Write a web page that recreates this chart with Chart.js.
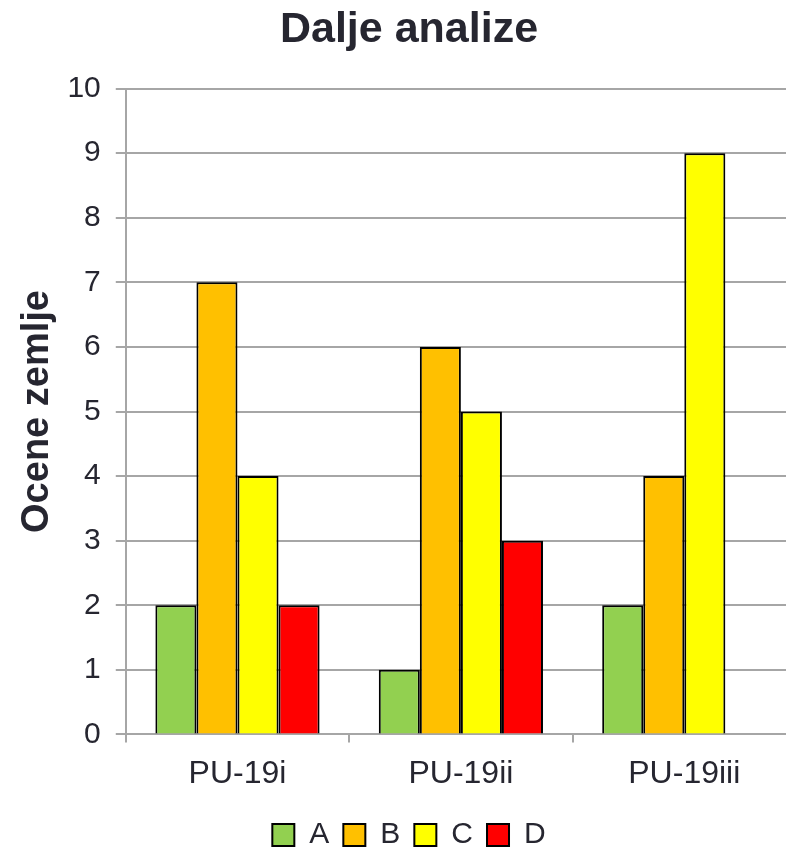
<!DOCTYPE html>
<html>
<head>
<meta charset="utf-8">
<script src="https://cdn.jsdelivr.net/npm/chart.js@4/dist/chart.umd.min.js"></script>
<style>
  html, body { margin: 0; padding: 0; background: #fff; overflow: hidden; }
  canvas { display: block; }
</style>
</head>
<body>
<canvas id="gradeChart" width="800" height="850"></canvas>
<script>
// categories and series
const categories = ['PU-19i', 'PU-19ii', 'PU-19iii'];
const seriesA = [2, 1, 2];
const seriesB = [7, 6, 4];
const seriesC = [4, 5, 9];
const seriesD = [2, 3, 0];

const textColor = '#262630';
const gridColor = '#a6a6a6';
const fontFamily = '"Liberation Sans", Arial, sans-serif';

Chart.defaults.font.family = fontFamily;
Chart.defaults.color = textColor;

const ctx = document.getElementById('gradeChart').getContext('2d');

function bars(label, values, color) {
    return {
        label: label,
        data: values,
        backgroundColor: color,
        borderColor: '#000000',
        borderWidth: 2,
        borderSkipped: 'bottom',
        categoryPercentage: 0.735,
        barPercentage: 1.0
    };
}

const chart = new Chart(ctx, {
    type: 'bar',
    data: {
        labels: categories,
        datasets: [
            bars('A', seriesA, '#92d050'),
            bars('B', seriesB, '#ffc000'),
            bars('C', seriesC, '#ffff00'),
            bars('D', seriesD, '#ff0000')
        ]
    },
    options: {
        responsive: false,
        animation: false,
        layout: {
            padding: { left: 22, right: 4, top: 0, bottom: -10 }
        },
        plugins: {
            title: {
                display: true,
                text: 'Dalje analize',
                color: textColor,
                font: { size: 43, weight: 'bold' },
                padding: { top: 4, bottom: 33 }
            },
            legend: {
                position: 'bottom',
                labels: {
                    color: textColor,
                    font: { size: 30 },
                    boxWidth: 22,
                    boxHeight: 22,
                    padding: 14
                }
            },
            tooltip: { enabled: false }
        },
        scales: {
            x: {
                offset: true,
                grid: {
                    offset: true,
                    drawOnChartArea: false,
                    color: gridColor,
                    lineWidth: 2,
                    tickLength: 8
                },
                border: { color: gridColor, width: 2 },
                ticks: {
                    color: textColor,
                    font: { size: 32, lineHeight: 0.8 },
                    padding: 19
                }
            },
            y: {
                min: 0,
                max: 10,
                ticks: {
                    stepSize: 1,
                    color: textColor,
                    font: { size: 30 },
                    padding: 15
                },
                grid: {
                    color: gridColor,
                    lineWidth: 2,
                    tickLength: 10
                },
                border: { color: gridColor, width: 2 },
                title: {
                    display: true,
                    text: 'Ocene zemlje',
                    color: textColor,
                    font: { size: 38, weight: 'bold', lineHeight: 0.8 },
                    padding: { top: 0, bottom: 0 }
                }
            }
        }
    }
});
</script>
</body>
</html>
